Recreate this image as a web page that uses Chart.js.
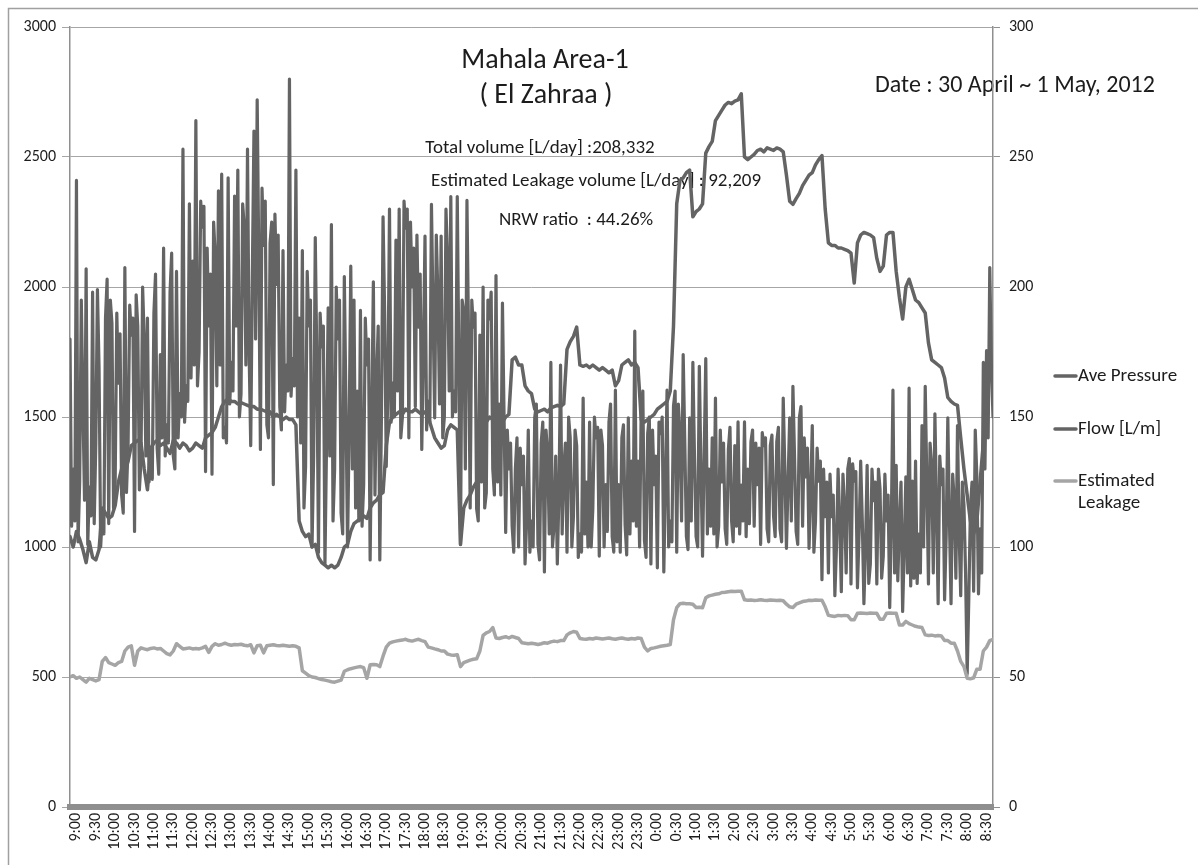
<!DOCTYPE html>
<html>
<head>
<meta charset="utf-8">
<script src="https://cdn.jsdelivr.net/npm/chart.js@4.4.1/dist/chart.umd.min.js"></script>
<style>
  html, body { margin: 0; padding: 0; background: #ffffff; }
  #wrap { position: relative; width: 1198px; height: 865px; }
  canvas { display: block; }
</style>
</head>
<body>
<div id="wrap"><canvas id="c" width="1198" height="865"></canvas></div>
<script>
// ---------------- DATA ----------------
// time axis: minutes after 9:00 (30 Apr); the record runs from 8:50 to 8:40 next day
const startMinute = -10;
const pressureStep = 5;     // Ave Pressure / Estimated Leakage read every 5 minutes
const flowStep = 2.5;       // Flow read every 2.5 minutes

// axis labels shown on the time axis (every 30 minutes from 9:00)
const tickLabels = ['9:00','9:30','10:00','10:30','11:00','11:30','12:00','12:30','13:00','13:30',
  '14:00','14:30','15:00','15:30','16:00','16:30','17:00','17:30','18:00','18:30','19:00','19:30',
  '20:00','20:30','21:00','21:30','22:00','22:30','23:00','23:30','0:00','0:30','1:00','1:30',
  '2:00','2:30','3:00','3:30','4:00','4:30','5:00','5:30','6:00','6:30','7:00','7:30','8:00','8:30'];

const seriesNames = ['Ave Pressure', 'Flow [L/m]', 'Estimated Leakage'];

// Ave Pressure (right axis)
const avePressure = [
  104,100,106,103,99,94,102,96,95,99,
  115,113,111,112,116,125,130,129,133,139,
  140,141,140,130,122,138,140,141,139,140,
  138,136,141,140,138,140,139,137,138,140,
  139,138,142,143,144,146,150,154,156,157,
  156,156,155,155.5,155,154.5,154,154,153,153,
  152.5,152,152,150,151,150,149,150,149,149,
  147,110,106,104,105,100,101,96,94,93,
  92,93,92,93,96,100,101,106,109,110,
  111,112,111,115,117,118,120,121,139,148,
  150,151,152,151,153,152,152,153,152,151,
  152,150,146,142,140,138,139,145,147,146,
  145,101,115,118,120,123,125,126,145,148,
  150,149,151,150,148,150,151,172,173,170,
  170,162,160,159,153,152,152.5,153,152,153.5,
  154,154.5,154,155,176,179,181,184.6,170,169.5,
  170,169,170,169,168,169,168,167,168,162,
  164,170,171,172,170,171,169,149,148,149,
  150,151,153,154,155,156,160,185,232,241,
  242,244,245,227,229,230,232,251.5,254,256,
  264,266,268,270,271,270.5,271.5,272,274.3,250,
  249,250,251,252.5,253,252,253.5,253,252.5,253.5,
  253,252,243,233,231.8,234,236,239,241,243,
  244,247,249,250.5,230,217,216,216,215,215,
  214.5,214,213,201.5,217,220,221,220.5,220,219,
  211,206,208,220,221,221,206,196,187.7,200,
  203,199,195,194,192,190,178.5,172,171,170,
  169,165,157.5,156,155,154.5,142,130,120,110,
  105,110,125,140,160,170,165
];

// Flow [L/m] (left axis), every 2.5 minutes
const flow = [
  1800,1080,1300,1100,2410,1020,1250,1950,1550,1180,2070,1010,1230,1120,1980,1090,1400,1990,1690,1000,
  1120,1050,1880,2030,1090,1950,1860,1150,1250,1900,1630,1820,1200,1130,2075,1210,1390,1930,1815,1880,
  1060,1970,1850,1220,1330,2000,1800,1350,1880,1250,1330,1260,1900,2050,1380,1280,1740,1420,2150,1350,
  1470,1400,1980,2130,1350,1300,2060,1420,1590,1500,2530,1480,1620,1560,2320,1650,2100,1700,2640,1620,
  1750,2330,2230,2310,1290,2150,1850,2050,1280,2250,2120,1620,2370,1700,2434,1420,1460,1400,2420,1550,
  1710,1600,2350,1850,2450,1500,1590,2320,2230,1700,2530,1750,1390,2050,2600,1800,2720,2100,1375,2380,
  2160,2330,1470,1420,2170,2250,1240,2280,2010,2200,1540,1450,2140,1520,1700,1600,2800,1580,1725,1620,
  2450,1500,1880,1400,2140,1150,1310,2060,1850,1950,1000,1350,2190,1700,980,1900,1770,1850,935,1400,
  1920,1350,2240,1100,1300,2000,1800,1950,1130,1050,2040,1550,1000,1450,2080,1300,1950,1150,1600,1100,
  1910,1080,1240,1880,1700,1800,950,1500,2020,1200,1650,1850,950,1500,2270,1900,1310,1600,2300,1480,
  1630,1500,2180,1600,2300,1420,1500,2330,2226,2300,1420,2250,2000,2150,1540,2200,1846,2050,1375,1750,
  2196,1450,1560,1480,2318,1900,1497,2200,1968,1550,2196,1420,1500,2300,2105,1600,2348,1500,1600,1520,
  2348,1700,1010,1950,1907,1300,2333,1800,1150,1950,1846,1900,1147,1100,1815,1250,2000,1150,1208,1950,
  1877,1980,1300,1200,2044,1250,1550,1200,1938,1500,1056,1450,1300,1400,1080,980,1300,1420,1000,1380,
  1240,1350,935,1100,1450,980,1100,1000,1497,1550,1010,950,1400,1480,904,1450,1360,1050,1710,1000,
  1085,1350,935,1200,1700,1050,1300,1400,980,1500,1420,1000,1117,1450,1390,960,1050,980,1573,1050,
  1250,1000,1480,1000,1147,1500,1420,1460,965,1450,1390,1000,1240,1060,1480,1550,1040,980,1603,1020,
  1240,980,1420,1470,1085,970,1497,1050,1330,1100,1830,1080,1330,1000,1542,1600,1025,960,1436,1500,
  935,1450,1240,1350,920,1480,1436,1500,904,1250,1603,1000,1100,1020,1542,1600,980,1550,1436,1100,
  1740,1400,1040,990,1497,1100,1710,1350,1040,1000,1695,1300,965,1350,1725,1050,1300,1080,1420,1050,
  1573,1000,1080,1450,1250,1400,1070,1010,1375,1460,1100,1020,1390,1080,1481,1050,1238,1100,1481,1040,
  1300,1090,1405,1450,1080,1400,1240,1380,1010,1440,1390,1420,1070,1020,1390,1430,1120,1040,1405,1460,
  1070,1020,1573,1300,995,1250,1497,1100,1618,1350,1060,1010,1497,1540,1080,1420,1270,1380,995,1200,
  1467,980,1100,1380,1253,1330,874,1300,1117,1250,900,1280,1117,1200,813,1000,1300,1100,828,1280,
  1160,900,1300,1340,858,1320,1253,1290,843,1050,1330,1100,782,1000,1314,860,935,1300,1178,1250,
  858,1300,1223,880,965,1280,1100,1200,767,1100,1603,900,1314,870,1086,1250,752,1000,1270,900,
  1611,850,1253,880,1330,860,1050,900,1467,1000,1618,1250,858,1400,1314,900,1512,1150,782,1350,
  1240,1300,797,1050,1497,1100,782,1280,1178,880,1467,1050,813,1250,1162,900,510,800,1147,1250,
  830,1450,1270,820,1070,900,1710,1300,1755,1420,2075,1700,1500
];

// Estimated Leakage (left axis)
const estimatedLeakage = [
  500,505,495,500,490,480,495,490,485,490,
  560,575,555,550,545,555,560,600,615,620,
  545,600,612,608,605,610,612,608,610,600,
  590,585,600,628,618,608,610,612,608,610,
  608,612,618,595,618,628,622,625,630,625,
  622,625,624,626,622,620,624,593,620,622,
  593,620,622,624,621,620,622,620,618,620,
  618,612,524,515,505,500,498,494,490,488,
  485,482,480,484,488,522,528,532,535,538,
  540,536,495,547,548,547,540,580,615,630,
  635,638,640,642,645,640,638,642,645,640,
  636,615,612,608,605,600,600,588,585,584,
  586,540,555,560,565,568,570,600,660,670,
  675,690,650,648,652,655,650,656,652,648,
  632,630,628,630,628,625,628,632,630,635,
  638,636,640,640,662,670,675,672,648,646,
  645,648,646,650,648,646,648,650,647,645,
  648,650,647,645,648,646,650,648,615,600,
  610,612,615,618,620,622,625,720,767,782,
  784,782,782,780,767,768,766,805,812,815,
  818,820,825,826,828,830,829,830,830,797,
  795,796,794,795,797,795,794,796,795,794,
  795,793,780,770,767,780,785,790,792,795,
  794,796,795,795,770,737,735,733,737,736,
  737,736,720,720,745,746,745,744,746,745,
  745,722,722,745,746,745,745,700,700,714,
  705,700,695,692,690,662,660,661,658,660,
  658,640,640,630,630,600,560,540,495,493,
  497,530,530,600,615,640,645
];

const toPoints = (arr, step) => arr.map((v, i) => ({ x: startMinute + i * step, y: v }));

// ---------------- STYLE ----------------
const FONT = 'Carlito, Lato, "Open Sans", sans-serif';
const darkLine = '#646464';
const lightLine = '#a5a5a5';
const textColor = '#1c1c1c';

const annotationTexts = [
  { text: 'Mahala Area-1', x: 545, y: 61, size: 28 },
  { text: '( El Zahraa )', x: 546, y: 96, size: 28 },
  { text: 'Total volume [L/day] :208,332', x: 540, y: 148, size: 19 },
  { text: 'Estimated Leakage volume [L/day] : 92,209', x: 596, y: 181, size: 19 },
  { text: 'NRW ratio  : 44.26%', x: 576, y: 220, size: 19 },
  { text: 'Date : 30 April ~ 1 May, 2012', x: 1015, y: 86, size: 24 }
];

const backgroundPlugin = {
  id: 'bgText',
  beforeDraw(chart) {
    const ctx = chart.ctx;
    ctx.save();
    ctx.fillStyle = '#ffffff';
    ctx.fillRect(0, 0, chart.width, chart.height);
    ctx.strokeStyle = '#a0a0a0';
    ctx.lineWidth = 1.5;
    ctx.beginPath();
    ctx.moveTo(8.5, 865);
    ctx.lineTo(8.5, 8.5);
    ctx.lineTo(1198, 8.5);
    ctx.stroke();
    ctx.fillStyle = textColor;
    ctx.textAlign = 'center';
    ctx.textBaseline = 'middle';
    annotationTexts.forEach(a => {
      ctx.font = a.size + 'px ' + FONT;
      ctx.fillText(a.text, a.x, a.y);
    });
    ctx.restore();
  }
};

const legendPlugin = {
  id: 'sideLegend',
  afterDraw(chart) {
    const ctx = chart.ctx;
    const items = [
      { ds: 0, y: 376, lines: ['Ave Pressure'] },
      { ds: 1, y: 429, lines: ['Flow [L/m]'] },
      { ds: 2, y: 481, lines: ['Estimated', 'Leakage'] }
    ];
    ctx.save();
    ctx.font = '19px ' + FONT;
    ctx.textBaseline = 'middle';
    ctx.textAlign = 'left';
    items.forEach(it => {
      const ds = chart.data.datasets[it.ds];
      ctx.strokeStyle = ds.borderColor;
      ctx.lineWidth = 3.5;
      ctx.lineCap = 'round';
      ctx.beginPath();
      ctx.moveTo(1055, it.y);
      ctx.lineTo(1076, it.y);
      ctx.stroke();
      ctx.fillStyle = textColor;
      it.lines.forEach((ln, k) => ctx.fillText(ln, 1078, it.y + k * 22));
    });
    ctx.restore();
  }
};

const ctx = document.getElementById('c').getContext('2d');
new Chart(ctx, {
  type: 'line',
  data: {
    datasets: [
      { label: seriesNames[0], data: toPoints(avePressure, pressureStep), yAxisID: 'y1', borderColor: darkLine, borderWidth: 3.5, order: 2 },
      { label: seriesNames[1], data: toPoints(flow, flowStep), yAxisID: 'y', borderColor: darkLine, borderWidth: 3.2, order: 1 },
      { label: seriesNames[2], data: toPoints(estimatedLeakage, pressureStep), yAxisID: 'y', borderColor: lightLine, borderWidth: 3.5, order: 0 }
    ]
  },
  options: {
    responsive: false,
    animation: false,
    devicePixelRatio: 1,
    events: [],
    layout: { padding: { left: 0, right: 160, top: 27, bottom: 8 } },
    elements: {
      point: { radius: 0 },
      line: { tension: 0, borderJoinStyle: 'round', borderCapStyle: 'round', fill: false }
    },
    plugins: {
      legend: { display: false },
      title: { display: false },
      tooltip: { enabled: false }
    },
    scales: {
      x: {
        type: 'linear',
        min: -10,
        max: 1420,
        grid: { display: false, drawTicks: false },
        border: { display: true, color: '#8f8f8f', width: 6 },
        afterBuildTicks(scale) {
          scale.ticks = tickLabels.map((l, k) => ({ value: k * 30 }));
        },
        ticks: {
          autoSkip: false,
          maxRotation: 90,
          minRotation: 90,
          padding: 6,
          color: textColor,
          font: { family: FONT, size: 16 },
          callback: function (v) {
            return tickLabels[Math.round(v / 30)];
          }
        },
        afterFit(s) { s.height = 50; }
      },
      y: {
        position: 'left',
        min: 0,
        max: 3000,
        ticks: { stepSize: 500, padding: 6, color: textColor, font: { family: FONT, size: 16 },
          callback: v => String(v) },
        grid: { color: '#a6a6a6', lineWidth: 1, tickLength: 8, drawTicks: true },
        border: { display: true, color: '#8f8f8f', width: 1.5 },
        afterFit(s) { s.width = 70; }
      },
      y1: {
        position: 'right',
        min: 0,
        max: 300,
        ticks: { stepSize: 50, padding: 9, color: textColor, font: { family: FONT, size: 16 },
          callback: v => String(v) },
        grid: { drawOnChartArea: false, tickLength: 7, color: '#8f8f8f' },
        border: { display: true, color: '#8f8f8f', width: 1.5 },
        afterFit(s) { s.width = 45; }
      }
    }
  },
  plugins: [backgroundPlugin, legendPlugin]
});
</script>
</body>
</html>
